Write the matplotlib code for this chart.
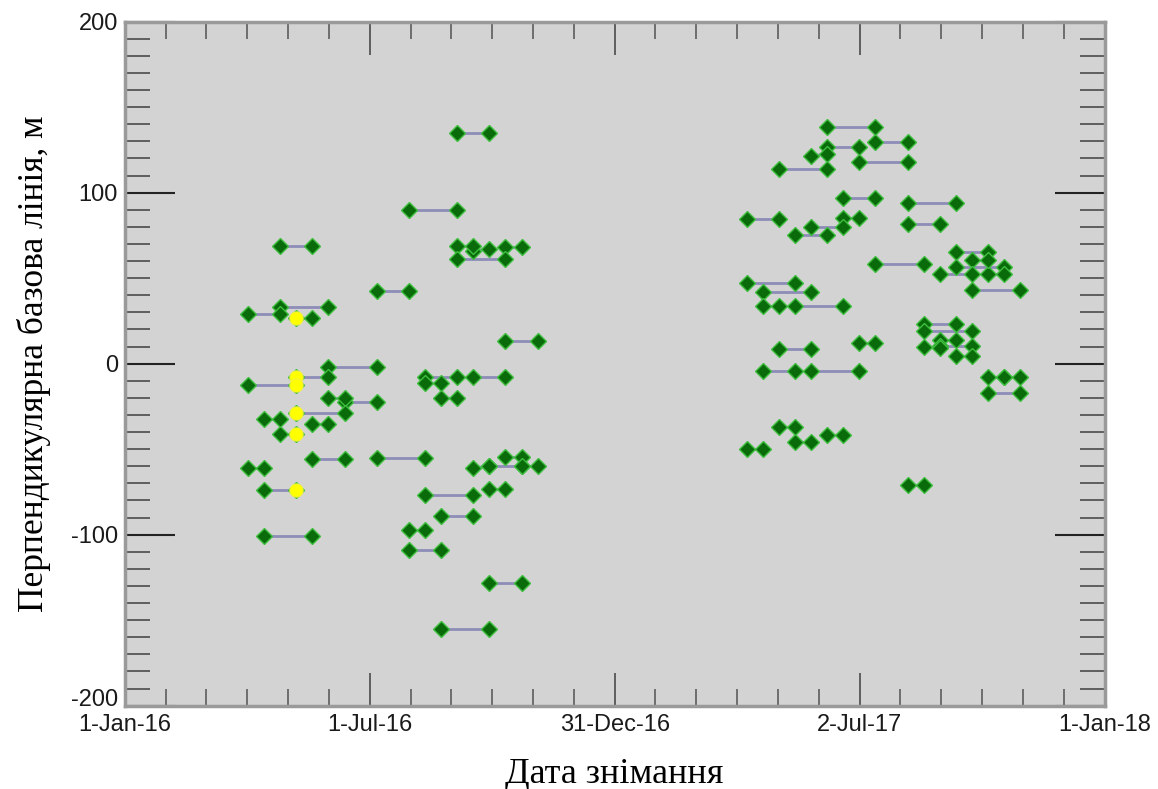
import matplotlib
matplotlib.use("Agg")
import matplotlib.pyplot as plt
import matplotlib.dates as mdates
from matplotlib import font_manager
from matplotlib.transforms import ScaledTranslation
import numpy as np
import pandas as pd

# interferometric pairs: first acquisition, second acquisition, perpendicular baseline (m)
pair_date1 = [
    "2016-09-05", "2016-07-31", "2016-04-26", "2016-09-05", "2016-09-17", "2016-10-11",
    "2016-09-05", "2016-07-07", "2016-04-02", "2016-04-26", "2016-05-08", "2016-10-11",
    "2016-06-01", "2016-05-08", "2016-04-02", "2016-06-01", "2016-06-13", "2016-05-08",
    "2016-04-14", "2016-05-20", "2016-04-26", "2016-05-20", "2016-07-07", "2016-04-02",
    "2016-04-14", "2016-04-14", "2016-08-12", "2016-08-12", "2016-08-24", "2016-09-17",
    "2016-10-11", "2016-09-17", "2016-09-29", "2016-10-23", "2016-09-29", "2016-08-12",
    "2016-08-24", "2016-07-31", "2016-07-31", "2016-09-29", "2016-08-24",
    "2017-06-08", "2017-07-14", "2017-06-08", "2017-05-27", "2017-07-02", "2017-05-03",
    "2017-06-20", "2017-08-07", "2017-04-09", "2017-06-20", "2017-08-07", "2017-05-27",
    "2017-05-15", "2017-07-14", "2017-09-12", "2017-09-24", "2017-09-12", "2017-08-31",
    "2017-10-06", "2017-09-24", "2017-04-09", "2017-04-21", "2017-04-21", "2017-05-15",
    "2017-08-19", "2017-08-19", "2017-08-31", "2017-08-19", "2017-08-31", "2017-09-12",
    "2017-05-03", "2017-07-02", "2017-04-21", "2017-05-27", "2017-10-06", "2017-10-18",
    "2017-10-06", "2017-05-03", "2017-05-15", "2017-06-08", "2017-04-09", "2017-08-07",
]
pair_bperp1 = [
    135, 90, 69, 69, 66, 68, 61.5, 42.5, 29, 33, 27, 13.5,
    -2, -7.6, -12.5, -20, -22.6, -29, -32.5, -35, -41, -56, -55, -61,
    -74, -101, -7.6, -11.5, -20, -7.6, -54.4, -61, -60, -60, -73.5, -77,
    -89, -97, -109, -128.4, -155,
    138.6, 129.5, 126.9, 121.6, 117.8, 113.7, 96.7, 94.2, 84.6, 85, 81.5, 80.1,
    75.3, 58.1, 65.3, 60.6, 56.7, 52.5, 52.5, 43.1, 47, 42.1, 33.7, 33.7,
    23.5, 19, 14, 10, 10.5, 4.5, 8.4, 11.9, -4.1, -4.1, -7.6, -7.6,
    -17, -36.8, -45.6, -41.7, -50, -70.9,
]
pair_date2 = [
    "2016-09-29", "2016-09-05", "2016-05-20", "2016-09-17", "2016-09-29", "2016-10-23",
    "2016-10-11", "2016-07-31", "2016-04-26", "2016-06-01", "2016-05-20", "2016-11-04",
    "2016-07-07", "2016-06-01", "2016-05-08", "2016-06-13", "2016-07-07", "2016-06-13",
    "2016-04-26", "2016-06-01", "2016-05-08", "2016-06-13", "2016-08-12", "2016-04-14",
    "2016-05-08", "2016-05-20", "2016-09-05", "2016-08-24", "2016-09-05", "2016-10-11",
    "2016-10-23", "2016-09-29", "2016-10-23", "2016-11-04", "2016-10-11", "2016-09-17",
    "2016-09-17", "2016-08-12", "2016-08-24", "2016-10-23", "2016-09-29",
    "2017-07-14", "2017-08-07", "2017-07-02", "2017-06-08", "2017-08-07", "2017-06-08",
    "2017-07-14", "2017-09-12", "2017-05-03", "2017-07-02", "2017-08-31", "2017-06-20",
    "2017-06-08", "2017-08-19", "2017-10-06", "2017-10-06", "2017-10-18", "2017-09-24",
    "2017-10-18", "2017-10-30", "2017-05-15", "2017-05-27", "2017-05-03", "2017-06-20",
    "2017-09-12", "2017-09-24", "2017-09-12", "2017-08-31", "2017-09-24", "2017-09-24",
    "2017-05-27", "2017-07-14", "2017-05-15", "2017-07-02", "2017-10-18", "2017-10-30",
    "2017-10-30", "2017-05-15", "2017-05-27", "2017-06-20", "2017-04-21", "2017-08-19",
]
pair_bperp2 = [
    135, 90, 69, 69, 67, 68, 61.5, 42.5, 29, 33, 27, 13.5,
    -2, -7.6, -12.5, -20, -22.6, -29, -32.5, -35, -41, -56, -55, -61,
    -74, -101, -7.6, -11.5, -20, -7.6, -54.4, -60, -60, -60, -73.5, -77,
    -89, -97, -109, -128.4, -155,
    138.6, 129.5, 126.9, 122.5, 117.8, 113.7, 96.7, 94.2, 84.6, 85, 81.5, 80.1,
    75.3, 58.1, 65.3, 60.6, 56.7, 52.5, 52.5, 43.1, 47, 42.1, 33.7, 33.7,
    23.5, 19, 14, 9, 10.5, 4.5, 8.4, 11.9, -4.1, -4.1, -7.6, -7.6,
    -17, -36.8, -45.6, -41.7, -50, -70.9,
]

# highlighted (yellow) acquisitions
ref_dates = ["2016-05-08"] * 6
ref_bperp = [27, -7.6, -12.5, -29, -41, -74]

x_start = "2016-01-01"
x_end = "2018-01-01"
y_ticks = [-200, -100, 0, 100, 200]


def pick_font(names, fallback):
    for name in names:
        try:
            font_manager.findfont(name, fallback_to_default=False)
            return name
        except ValueError:
            continue
    return fallback


plt.rcParams["axes.unicode_minus"] = False
tick_font = pick_font(["Liberation Sans Narrow", "DejaVu Sans Condensed"], "Liberation Sans")
label_font = "Liberation Serif"

d1 = pd.to_datetime(pair_date1)
d2 = pd.to_datetime(pair_date2)

fig = plt.figure(figsize=(11.58, 7.89), dpi=100)
ax = fig.add_axes([0.1077, 0.1056, 0.8462, 0.8669])
ax.set_facecolor("#d3d3d3")

for a, b1, b, b2 in zip(d1, pair_bperp1, d2, pair_bperp2):
    ax.plot([a, b], [b1, b2], color="#8d8db8", linewidth=2.0, zorder=2)

all_dates = list(d1) + list(d2)
all_bperp = pair_bperp1 + pair_bperp2
ax.plot(all_dates, all_bperp, linestyle="none", marker="D", markersize=8.5,
        markerfacecolor="#0a6b0a", markeredgecolor="#3fbf3f", markeredgewidth=1.0,
        zorder=3)
ax.plot(pd.to_datetime(ref_dates), ref_bperp, linestyle="none", marker="o",
        markersize=9.5, markerfacecolor="#ffff00", markeredgecolor="#f2f23a",
        markeredgewidth=0.8, zorder=4)

n0 = mdates.date2num(pd.Timestamp(x_start))
n1 = mdates.date2num(pd.Timestamp(x_end))
ax.set_xlim(n0, n1)
ax.set_ylim(-200, 200)
ax.xaxis.set_major_locator(matplotlib.ticker.FixedLocator(np.linspace(n0, n1, 5)))
ax.xaxis.set_minor_locator(matplotlib.ticker.FixedLocator(np.linspace(n0, n1, 25)))
ax.xaxis.set_major_formatter(mdates.DateFormatter("%-d-%b-%y"))
ax.yaxis.set_major_locator(matplotlib.ticker.FixedLocator(y_ticks))
ax.yaxis.set_minor_locator(matplotlib.ticker.MultipleLocator(10))

ax.tick_params(axis="x", which="major", direction="in", top=True, bottom=True,
               length=24, width=1.3, color="#555555", pad=6,
               labelsize=17, labelcolor="#1a1a1a")
ax.tick_params(axis="x", which="minor", direction="in", top=True, bottom=True,
               length=12, width=1.3, color="#666666")
ax.tick_params(axis="y", which="major", direction="in", left=True, right=True,
               length=36, width=1.5, color="#222222", pad=5, labelsize=17,
               labelcolor="#1a1a1a")
ax.tick_params(axis="y", which="minor", direction="in", left=True, right=True,
               length=18, width=1.3, color="#555555")
for lab in ax.get_xticklabels() + ax.get_yticklabels():
    lab.set_fontfamily([tick_font, "DejaVu Sans"])

# the lowest y label sits a little above its tick, as in the source plot
low = ax.yaxis.get_major_ticks()[0].label1
low.set_transform(low.get_transform()
                  + ScaledTranslation(0, 6 / 72, fig.dpi_scale_trans))

for spine in ax.spines.values():
    spine.set_color("#9a9a9a")
    spine.set_linewidth(2.5)

ax.set_xlabel("Дата знімання", fontsize=26, family=label_font, labelpad=16)
ax.set_ylabel("Перпендикулярна базова лінія, м", fontsize=25.5, family=label_font,
              labelpad=14)

fig.savefig("out.png", dpi=100)
